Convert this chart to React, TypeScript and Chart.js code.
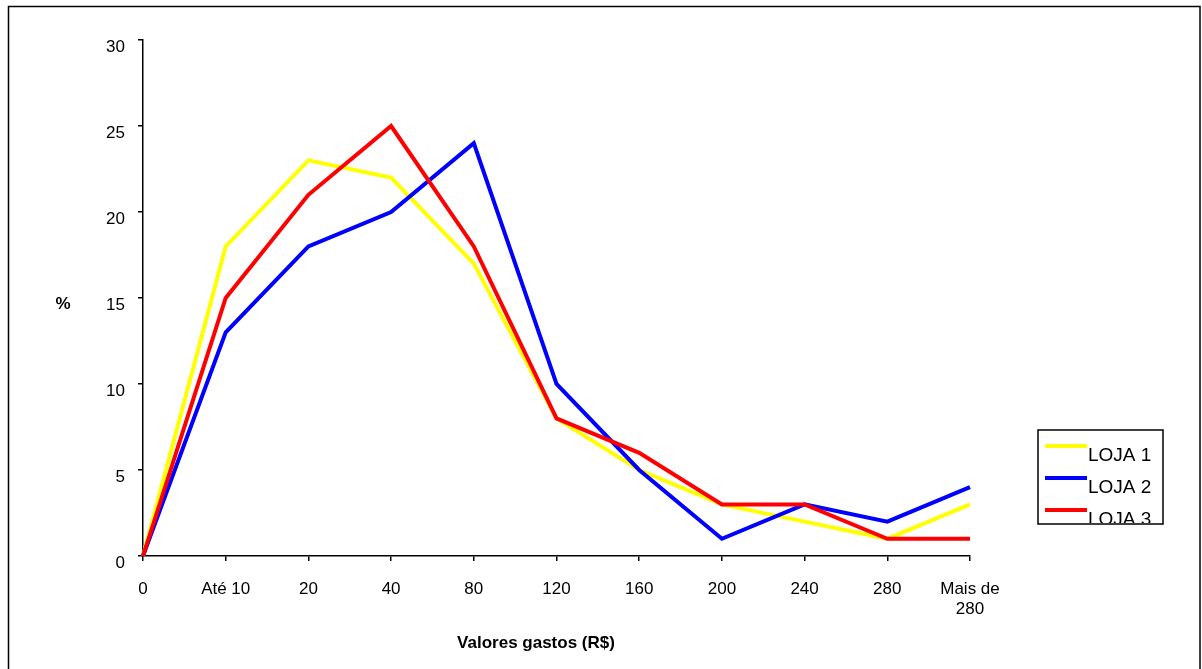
import React, { useEffect, useRef } from "react";
import { Chart, registerables } from "chart.js";

Chart.register(...registerables);

const categories: (string | string[])[] = ["0", "Até 10", "20", "40", "80", "120", "160", "200", "240", "280", ["Mais de", "280"]];
const loja1 = [0, 18, 23, 22, 17, 8, 5, 3, 2, 1, 3];
const loja2 = [0, 13, 18, 20, 24, 10, 5, 1, 3, 2, 4];
const loja3 = [0, 15, 21, 25, 18, 8, 6, 3, 3, 1, 1];
const seriesNames = ["LOJA 1", "LOJA 2", "LOJA 3"];
const seriesColors = ["#FFFF00", "#0000FF", "#FF0000"];
const yTitle = "%";
const xTitle = "Valores gastos (R$)";

const FONT = "'Liberation Sans', Arial, sans-serif";

const framePlugin = {
  id: "frame",
  beforeDraw(chart: any) {
    const ctx = chart.ctx;
    ctx.save();
    ctx.fillStyle = "#ffffff";
    ctx.fillRect(0, 0, chart.width, chart.height);
    ctx.restore();
  },
  afterDraw(chart: any) {
    const ctx = chart.ctx;
    ctx.save();
    // outer frame
    ctx.strokeStyle = "#000";
    ctx.lineWidth = 1.5;
    ctx.strokeRect(8.5, 6.5, 1191.5, 700);

    // axis titles
    ctx.fillStyle = "#000";
    ctx.font = `bold 17px ${FONT}`;
    ctx.textAlign = "center";
    ctx.textBaseline = "middle";
    ctx.fillText(yTitle, 63, 304);
    ctx.fillText(xTitle, 536, 643);

    // legend
    const bx = 1038, by = 430, bw = 125, bh = 94;
    ctx.lineWidth = 1.5;
    ctx.strokeRect(bx, by, bw, bh);
    ctx.beginPath();
    ctx.rect(bx + 1, by + 1, bw - 2, bh - 2);
    ctx.clip();
    const ds = chart.data.datasets;
    ds.forEach((d: any, i: number) => {
      const ly = 446 + i * 32;
      ctx.strokeStyle = d.borderColor;
      ctx.lineWidth = 4;
      ctx.beginPath();
      ctx.moveTo(1045, ly);
      ctx.lineTo(1087, ly);
      ctx.stroke();
      ctx.fillStyle = "#000";
      ctx.font = `19px ${FONT}`;
      ctx.textAlign = "left";
      ctx.textBaseline = "alphabetic";
      ctx.fillText(d.label, 1088, ly + 15);
    });
    ctx.restore();
  },
};

export default function App() {
  const ref = useRef<HTMLCanvasElement | null>(null);
  useEffect(() => {
    if (!ref.current) return;
    const series = [loja1, loja2, loja3];
    const chart = new Chart(ref.current, {
      type: "line",
      data: {
        labels: categories,
        datasets: series.map((s, i) => ({
          label: seriesNames[i],
          data: s,
          borderColor: seriesColors[i],
          backgroundColor: seriesColors[i],
          borderWidth: 4,
          pointRadius: 0,
          pointHoverRadius: 0,
          tension: 0,
          fill: false,
          order: 3 - i,
          borderJoinStyle: "miter" as const,
        })),
      },
      options: {
        animation: false,
        responsive: false,
        devicePixelRatio: 1,
        layout: { padding: { left: 80, right: 232, top: 40, bottom: 33 } },
        plugins: {
          legend: { display: false },
          tooltip: { enabled: false },
        },
        scales: {
          x: {
            offset: false,
            grid: { drawOnChartArea: false, drawTicks: true, tickLength: 5, color: "#000", lineWidth: 1.5 },
            border: { display: true, color: "#000", width: 1.5 },
            ticks: {
              color: "#000",
              font: { family: FONT, size: 17 },
              padding: 18,
              maxRotation: 0,
              autoSkip: false,
            },
            afterFit: (scale: any) => {
              scale.height = 80;
            },
          },
          y: {
            min: 0,
            max: 30,
            grid: { drawOnChartArea: false, drawTicks: true, tickLength: 5, color: "#000", lineWidth: 1.5 },
            border: { display: true, color: "#000", width: 1.5 },
            ticks: {
              stepSize: 5,
              color: "#000",
              font: { family: FONT, size: 17 },
              padding: 13,
              labelOffset: 7,
            },
            afterFit: (scale: any) => {
              scale.width = 63;
            },
          },
        },
      },
      plugins: [framePlugin],
    });
    return () => chart.destroy();
  }, []);
  return (
    <div style={{ position: "absolute", left: 0, top: 0, width: 1202, height: 669, background: "#fff" }}>
      <canvas ref={ref} width={1202} height={669} style={{ display: "block" }} />
    </div>
  );
}
